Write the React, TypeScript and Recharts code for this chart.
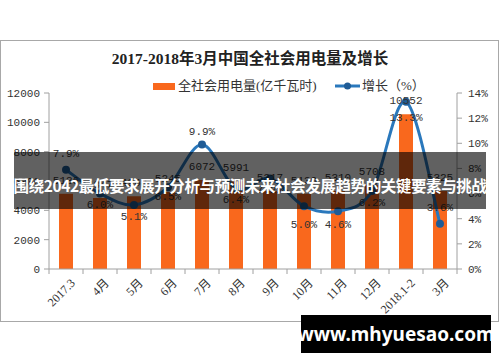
import React from 'react';
import { ComposedChart, Bar, Line, XAxis, YAxis, LabelList } from 'recharts';

const categories = ['2017.3', '4月', '5月', '6月', '7月', '8月', '9月', '10月', '11月', '12月', '2018.1-2', '3月'];
const consumption = [5136, 4847, 4968, 5245, 6072, 5991, 5317, 5130, 5310, 5708, 10552, 5325];
const growth = [7.9, 6.0, 5.1, 6.5, 9.9, 6.4, 7.2, 5.0, 4.6, 6.2, 13.3, 3.6];
const leftTicks = [0, 2000, 4000, 6000, 8000, 10000, 12000];
const rightTicks = [0, 2, 4, 6, 8, 10, 12, 14];

// label placement (style): vertical offset of each growth label from its point
const growthLabelDy = [-16, 11, 12, 10, -13, 11, 12, 19, 14, 12, 16, -16];

const data = categories.map((c, i) => ({ name: c, value: consumption[i], growth: growth[i] }));

const BAR = '#F9681D';
const LINE = '#2A78BC';
const DOT = '#1F5C96';
const AXIS = '#A0A0A0';
const NUMFONT = '"Liberation Mono", "DejaVu Sans Mono", monospace';
const CJK = '"Liberation Serif", "Noto Sans CJK SC", serif';

// Excel-like smoothed line (Catmull-Rom as cubic Bezier)
const excelSmooth = (context: any) => {
  let pts: number[][] = [];
  return {
    areaStart() {},
    areaEnd() {},
    lineStart() { pts = []; },
    point(x: number, y: number) { pts.push([+x, +y]); },
    lineEnd() {
      if (!pts.length) return;
      context.moveTo(pts[0][0], pts[0][1]);
      for (let i = 0; i < pts.length - 1; i++) {
        const p0 = pts[i - 1] || pts[i];
        const p1 = pts[i];
        const p2 = pts[i + 1];
        const p3 = pts[i + 2] || p2;
        context.bezierCurveTo(
          p1[0] + (p2[0] - p0[0]) / 6, p1[1] + (p2[1] - p0[1]) / 6,
          p2[0] - (p3[0] - p1[0]) / 6, p2[1] - (p3[1] - p1[1]) / 6,
          p2[0], p2[1]
        );
      }
    },
  };
};

const XTick = (props: any) => {
  const { x, y, payload, index } = props;
  const half = 17;
  return (
    <g>
      <line x1={x - half} x2={x - half} y1={y} y2={y + 5} stroke={AXIS} />
      {index === categories.length - 1 && <line x1={x + half} x2={x + half} y1={y} y2={y + 5} stroke={AXIS} />}
      <text
        transform={`translate(${x + 7},${y + 12}) rotate(-45)`}
        textAnchor="end"
        dominantBaseline="central"
        fontSize={12}
        fontFamily={CJK}
        fill="#333"
      >
        {payload.value}
      </text>
    </g>
  );
};

const GrowthLabel = (props: any) => {
  const { x, y, value, index } = props;
  return (
    <text
      x={x}
      y={y + growthLabelDy[index]}
      textAnchor="middle"
      dominantBaseline="central"
      fontSize={11}
      fontFamily={NUMFONT}
      fill="#333"
    >
      {Number(value).toFixed(1)}%
    </text>
  );
};

export default function App() {
  return (
    <div style={{ position: 'absolute', left: 0, top: 0, width: 500, height: 362, background: '#fff', overflow: 'hidden' }}>
      <div style={{ position: 'absolute', left: 0, top: 40, width: 497, height: 280, border: '1px solid #A8A8A8' }} />
      <div style={{ position: 'absolute', left: 0, top: 49, width: 500, textAlign: 'center', fontSize: 15.5, fontWeight: 'bold', fontFamily: CJK, color: '#222', lineHeight: '20px' }}>
        2017-2018年3月中国全社会用电量及增长
      </div>
      <div style={{ position: 'absolute', left: 153, top: 83, width: 22, height: 7, background: BAR }} />
      <div style={{ position: 'absolute', left: 178, top: 77, fontSize: 13, fontFamily: CJK, color: '#333', lineHeight: '18px', whiteSpace: 'nowrap' }}>
        全社会用电量(亿千瓦时)
      </div>
      <svg style={{ position: 'absolute', left: 333, top: 80 }} width={30} height={12}>
        <line x1={2} x2={27} y1={6} y2={6} stroke={LINE} strokeWidth={3} />
        <circle cx={14.5} cy={6} r={3.5} fill={DOT} />
      </svg>
      <div style={{ position: 'absolute', left: 362, top: 77, fontSize: 13, fontFamily: CJK, color: '#333', lineHeight: '18px', whiteSpace: 'nowrap' }}>
        增长（%）
      </div>
      <div style={{ position: 'absolute', left: 0, top: 0 }}>
        <ComposedChart width={500} height={362} data={data} margin={{ top: 93, right: 0, left: 0, bottom: 43 }}>
          <XAxis
            dataKey="name"
            xAxisId="x"
            height={50}
            interval={0}
            stroke={AXIS}
            tickLine={false}
            tickSize={0}
            tickMargin={0}
            tick={<XTick />}
          />
          <YAxis
            yAxisId="left"
            orientation="left"
            width={49}
            domain={[0, 12000]}
            ticks={leftTicks}
            stroke={AXIS}
            tickSize={5}
            tickMargin={4}
            tick={{ fontSize: 11, fontFamily: NUMFONT, fill: '#333' }}
          />
          <YAxis
            yAxisId="right"
            orientation="right"
            width={43}
            domain={[0, 14]}
            ticks={rightTicks}
            stroke={AXIS}
            tickSize={5}
            tickMargin={6}
            tickFormatter={(v: number) => `${v}%`}
            tick={{ fontSize: 11, fontFamily: NUMFONT, fill: '#333' }}
          />
          <Bar dataKey="value" xAxisId="x" yAxisId="left" fill={BAR} barSize={14} isAnimationActive={false}>
            <LabelList dataKey="value" position="top" offset={10} style={{ fontSize: 11, fontFamily: NUMFONT, fill: '#333' }} />
          </Bar>
          <Line
            dataKey="growth"
            xAxisId="x"
            yAxisId="right"
            type={excelSmooth as any}
            stroke={LINE}
            strokeWidth={3}
            dot={{ r: 4, fill: DOT, stroke: 'none' }}
            activeDot={false}
            isAnimationActive={false}
          >
            <LabelList dataKey="growth" content={<GrowthLabel />} />
          </Line>
        </ComposedChart>
      </div>
      <div style={{ position: 'absolute', left: 14, top: 152, width: 472, height: 57, background: 'rgba(0,0,0,0.62)' }} />
      <div style={{ position: 'absolute', left: 0, top: 175, width: 500, textAlign: 'center', fontSize: 15.5, letterSpacing: -0.4, fontWeight: 'bold', fontFamily: '"Noto Sans CJK SC", "Noto Sans", sans-serif', color: '#fff', lineHeight: '20px', whiteSpace: 'nowrap' }}>
        围绕2042最低要求展开分析与预测未来社会发展趋势的关键要素与挑战
      </div>
      <div style={{ position: 'absolute', left: 301, top: 315, width: 190, height: 38, background: '#000', display: 'flex', alignItems: 'center', justifyContent: 'center' }}>
        <span style={{ color: '#fff', fontSize: 19, fontWeight: 'bold', fontFamily: '"Noto Sans", "Open Sans", sans-serif', lineHeight: '24px' }}>www.mhyuesao.com</span>
      </div>
    </div>
  );
}
